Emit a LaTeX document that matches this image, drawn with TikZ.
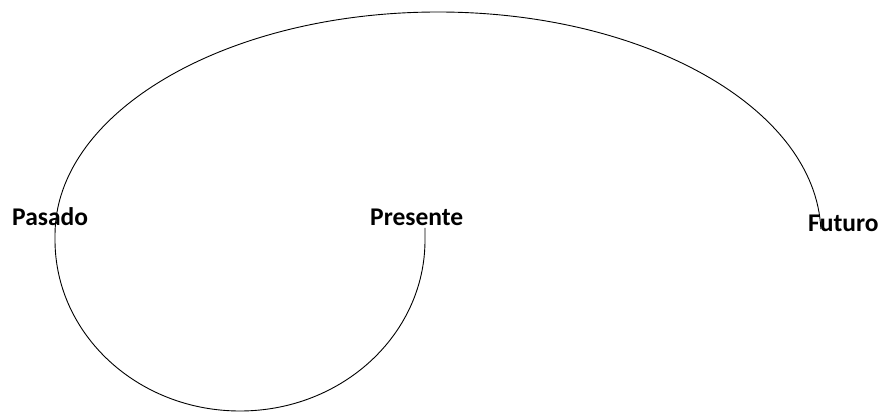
\documentclass[tikz,border=0pt]{standalone}
\usepackage{fontspec}
\setmainfont{Carlito}
\begin{document}
\begin{tikzpicture}[x=1pt,y=1pt,
  lbl/.style={anchor=base west,inner sep=0pt,font=\bfseries\fontsize{25.5}{28}\selectfont},
  curve/.style={line width=0.9pt,black}]
\useasboundingbox (0,0) rectangle (888,415);
\node[lbl] (pasado) at (12,189) {Pasado};
\node[lbl] (presente) at (370,189) {Presente};
\node[lbl] (futuro) at (808,183) {Futuro};
\coordinate (start) at (425,187);
\draw[curve] (start) -- (425,175)
  arc[start angle=0,end angle=-180,x radius=185pt,y radius=171pt]
  -- (55,180)
  arc[start angle=180,end angle=1.5,x radius=383pt,y radius=223pt] coordinate (fin);
\end{tikzpicture}
\end{document}
